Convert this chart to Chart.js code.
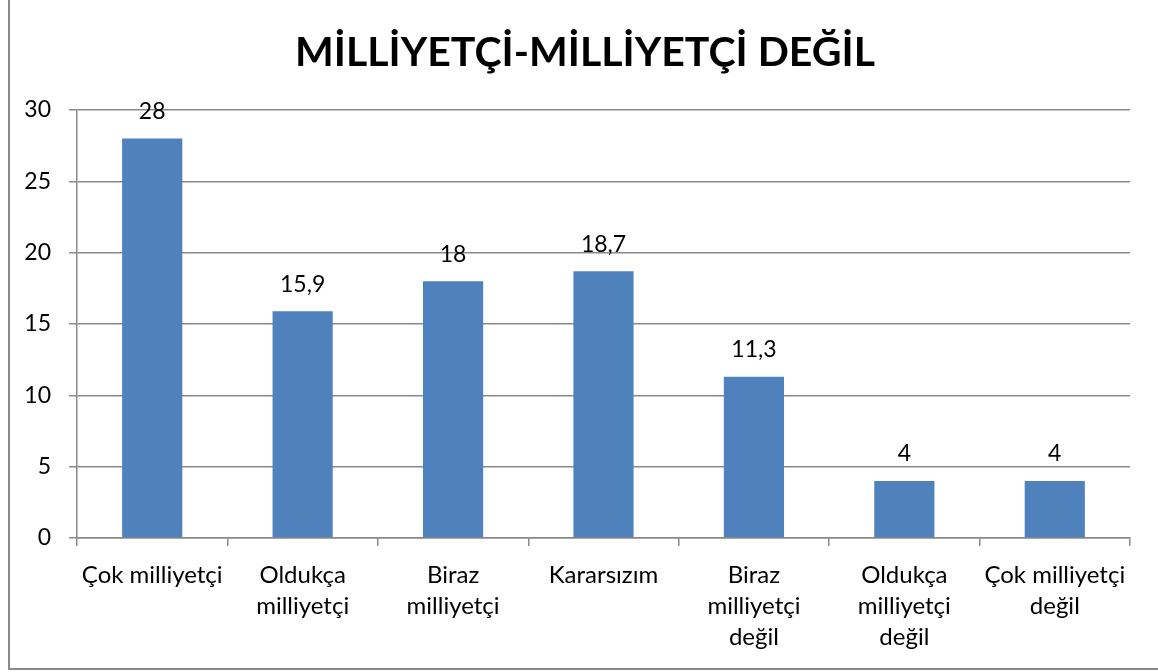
<!DOCTYPE html>
<html>
<head>
<meta charset="utf-8">
<script src="https://cdn.jsdelivr.net/npm/chart.js@4"></script>
<style>
    html, body { margin: 0; padding: 0; background: #fff; overflow: hidden; }
    #wrap { position: relative; width: 1158px; height: 672px; }
</style>
</head>
<body>
<div id="wrap"><canvas id="chart"></canvas></div>
<script>
const titleText = 'MİLLİYETÇİ-MİLLİYETÇİ DEĞİL';
const categories = [
    'Çok milliyetçi',
    ['Oldukça', 'milliyetçi'],
    ['Biraz', 'milliyetçi'],
    'Kararsızım',
    ['Biraz', 'milliyetçi', 'değil'],
    ['Oldukça', 'milliyetçi', 'değil'],
    ['Çok milliyetçi', 'değil']
];
const values = [28, 15.9, 18, 18.7, 11.3, 4, 4];

const FONT = 'Lato';
const GRAY = '#898989';

// values above bars + the chart title (centred like the original, not on the plot)
const barLabels = {
    id: 'barLabels',
    afterDatasetsDraw(chart) {
        const ctx = chart.ctx;
        const meta = chart.getDatasetMeta(0);
        ctx.save();
        ctx.fillStyle = '#000';
        ctx.font = '23px ' + FONT;
        ctx.textAlign = 'center';
        ctx.textBaseline = 'middle';
        meta.data.forEach((bar, i) => {
            ctx.fillText(String(values[i]).replace('.', ','), bar.x, bar.y - 27);
        });
        ctx.font = 'bold 41px ' + FONT;
        ctx.fillText(titleText, 585, 53);
        ctx.restore();
    }
};

const frame = {
    id: 'frame',
    beforeDraw(chart) {
        const ctx = chart.ctx;
        ctx.save();
        ctx.strokeStyle = GRAY;
        ctx.lineWidth = 2;
        ctx.beginPath();
        ctx.moveTo(9, 0);
        ctx.lineTo(9, 669);
        ctx.lineTo(1158, 669);
        ctx.stroke();
        ctx.restore();
    }
};

new Chart(document.getElementById('chart').getContext('2d'), {
    type: 'bar',
    data: {
        labels: categories,
        datasets: [{
            data: values,
            backgroundColor: '#4F81BD',
            borderWidth: 0,
            barPercentage: 0.4,
            categoryPercentage: 1
        }]
    },
    options: {
        responsive: true, maintainAspectRatio: false, animation: false,
        layout: { padding: { left: 0, right: 28, top: 110, bottom: 0 } },
        plugins: {
            legend: { display: false },
            tooltip: { enabled: false },
            title: { display: false }
        },
        scales: {
            y: {
                min: 0, max: 30,
                ticks: { stepSize: 5, color: '#000', padding: 18, font: { family: FONT, size: 23 } },
                grid: { color: GRAY, tickColor: GRAY, tickLength: 8, lineWidth: 1.5 },
                border: { color: GRAY, width: 1.5 },
                afterFit(s) { s.width = 77; }
            },
            x: {
                ticks: { color: '#000', padding: 14, maxRotation: 0, autoSkip: false, font: { family: FONT, size: 24, lineHeight: 1.29 } },
                grid: { drawOnChartArea: false, color: GRAY, tickColor: GRAY, tickLength: 8, lineWidth: 1.5, offset: true },
                border: { color: GRAY, width: 1.5 },
                afterFit(s) { s.height = 134; }
            }
        }
    },
    plugins: [barLabels, frame]
});
</script>
</body>
</html>
